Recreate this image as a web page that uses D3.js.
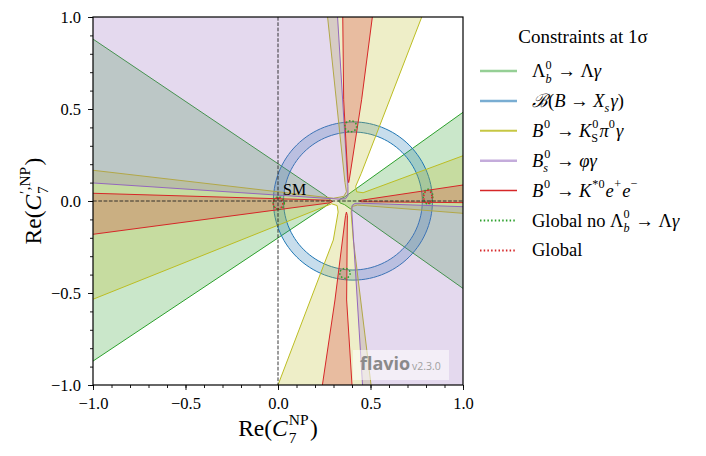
<!DOCTYPE html>
<html><head><meta charset="utf-8">
<script src="https://cdn.jsdelivr.net/npm/d3@7"></script>
<style>body{margin:0;background:#fff}svg{display:block}text{font-family:"Liberation Serif",serif;fill:#000}</style>
</head><body><svg id="c" width="706" height="456"></svg>
<script>
// ---------------- data ----------------
const majorTicks = [-1, -0.5, 0, 0.5, 1];
const tickLabels = ["\u22121.0", "\u22120.5", "0.0", "0.5", "1.0"];
const minorTicks = d3.range(-10, 11).map(d => d / 10);

// Lambda_b -> Lambda gamma (two wedges)
const lambdaBLeft  = [[-1,0.88],[0.255,0.03],[0.28,0.01],[0.29,0],[0.28,-0.01],[0.255,-0.03],[-1,-0.87]];
const lambdaBRight = [[1,0.482],[0.36,0.022],[0.335,0.01],[0.328,0],[0.335,-0.01],[0.36,-0.02],[1,-0.475]];
// B -> Xs gamma ring
const xsGammaCenter = [0.405, 0.0];
const xsGammaRadii  = [0.375, 0.43];
// B0 -> KS pi0 gamma (cross shaped region)
const kspiGamma = [[0.268,1],[0.362,0.1],[0.37,0.05],[0.355,0.025],[0.3,0.015],[-1,0.167],[-1,-0.534],
  [0.29,-0.015],[0.32,-0.025],[0.325,-0.06],[0.299,-0.212],[0,-1],[0.503,-1],[0.407,-0.21],[0.395,-0.06],
  [0.40,-0.03],[0.43,-0.022],[1,-0.067],[1,0.246],[0.46,0.045],[0.425,0.05],[0.42,0.08],[0.45,0.15],[0.777,1]];
// Bs -> phi gamma
const phiGammaUpper = [[-1,1],[0.322,1],[0.378,0.08],[0.378,0.03],[0.365,0.012],[0.33,0.01],[-1,0.098]];
const phiGammaLower = [[1,-1],[0.457,-1],[0.399,-0.06],[0.40,-0.025],[0.415,-0.013],[0.45,-0.012],[1,-0.031]];
// B0 -> K*0 e+ e-
const kstarLeft  = [[-1,0.042],[0.28,0.004],[0.295,-0.003],[0.28,-0.01],[-1,-0.181]];
const kstarRight = [[1,0.087],[0.45,0.004],[0.44,0],[0.45,-0.004],[1,-0.009]];
const kstarUp    = [[0.35,1],[0.355,0.55],[0.378,0.12],[0.382,0.1],[0.386,0.12],[0.452,0.55],[0.51,1]];
const kstarDown  = [[0.24,-1],[0.308,-0.538],[0.365,-0.08],[0.37,-0.06],[0.375,-0.08],[0.371,-0.538],[0.40,-1]];
// global fits: [cx, cy, rx, ry]
const globalNoLb = [[0.004,-0.012,0.03,0.034],[0.811,0.024,0.026,0.04],[0.393,0.406,0.032,0.03],[0.362,-0.393,0.028,0.027]];
const globalAll  = [[0.0,-0.012,0.026,0.03],[0.81,0.022,0.022,0.036]];
const smPoint = [0, 0];

// ---------------- layout / style ----------------
const L = 93, R = 463, T = 17, B = 385;
const x = d3.scaleLinear().domain([-1, 1]).range([L, R]);
const y = d3.scaleLinear().domain([-1, 1]).range([B, T]);
const C = {green:"#2ca02c", blue:"#1f77b4", olive:"#bcbd22", purple:"#9467bd", red:"#d62728"};

const svg = d3.select("#c");
svg.append("defs").append("clipPath").attr("id","clip")
  .append("rect").attr("x",L).attr("y",T).attr("width",R-L).attr("height",B-T);
const plot = svg.append("g").attr("clip-path","url(#clip)");

const line = d3.line().x(d => x(d[0])).y(d => y(d[1]));
const onEdge = (a, b) => (Math.abs(a[0])===1 && a[0]===b[0]) || (Math.abs(a[1])===1 && a[1]===b[1]);

function region(rings, color) {
  rings.forEach(ring => {
    plot.append("path").attr("d", line(ring) + "Z")
      .attr("fill", color).attr("fill-opacity", 0.25).attr("stroke", "none");
    const closed = ring.concat([ring[0]]);
    let seg = [closed[0]];
    const segs = [];
    for (let i = 1; i < closed.length; i++) {
      if (onEdge(closed[i-1], closed[i])) { if (seg.length > 1) segs.push(seg); seg = [closed[i]]; }
      else seg.push(closed[i]);
    }
    if (seg.length > 1) segs.push(seg);
    segs.forEach(s => plot.append("path").attr("d", line(s)).attr("fill","none")
      .attr("stroke", color).attr("stroke-width", 1));
  });
}

region([lambdaBLeft, lambdaBRight], C.green);

const ang = d3.range(0, 361, 3).map(a => a * Math.PI / 180);
const circ = r => ang.map(a => [xsGammaCenter[0] + r*Math.cos(a), xsGammaCenter[1] + r*Math.sin(a)]);
plot.append("path").attr("d", line(circ(xsGammaRadii[1])) + "Z" + line(circ(xsGammaRadii[0]).reverse()) + "Z")
  .attr("fill", C.blue).attr("fill-opacity", 0.25).attr("fill-rule","evenodd");
xsGammaRadii.forEach(r => plot.append("path").attr("d", line(circ(r)) + "Z")
  .attr("fill","none").attr("stroke", C.blue).attr("stroke-width", 1));

region([kspiGamma], C.olive);
region([phiGammaUpper, phiGammaLower], C.purple);
region([kstarLeft, kstarRight, kstarUp, kstarDown], C.red);

function ellipses(list, color) {
  list.forEach(e => plot.append("ellipse")
    .attr("cx", x(e[0])).attr("cy", y(e[1]))
    .attr("rx", x(e[0]+e[2]) - x(e[0])).attr("ry", y(e[1]) - y(e[1]+e[3]))
    .attr("fill","none").attr("stroke", color).attr("stroke-width", 1.5)
    .attr("stroke-dasharray","1.5,2"));
}
ellipses(globalNoLb, C.green);
ellipses(globalAll, C.red);

plot.append("line").attr("x1", x(smPoint[0])).attr("x2", x(smPoint[0])).attr("y1", T).attr("y2", B)
  .attr("stroke","#222").attr("stroke-width",0.9).attr("stroke-dasharray","3.7,1.6");
plot.append("line").attr("y1", y(smPoint[1])).attr("y2", y(smPoint[1])).attr("x1", L).attr("x2", R)
  .attr("stroke","#222").attr("stroke-width",0.9).attr("stroke-dasharray","3.7,1.6");
svg.append("text").attr("x", x(smPoint[0]) + 5).attr("y", y(smPoint[1]) - 6)
  .attr("font-size", 16).text("SM");

// watermark
const wm = svg.append("g");
wm.append("rect").attr("x", R-110).attr("y", B-35).attr("width", 96).attr("height", 30)
  .attr("fill","#fff").attr("fill-opacity",0.55);
wm.append("text").attr("x", R-103).attr("y", B-15).attr("font-size", 18).attr("font-weight","bold")
  .style("font-family","'Open Sans',sans-serif").style("fill","#8a8a8a").text("flavio");
wm.append("text").attr("x", R-51).attr("y", B-15).attr("font-size", 10.5)
  .style("font-family","'Open Sans',sans-serif").style("fill","#a0a0a0").text("v2.3.0");

// axes
const fmt = (d) => tickLabels[majorTicks.indexOf(d)];
const ax = svg.append("g").attr("transform", `translate(0,${B})`)
  .call(d3.axisBottom(x).tickValues(majorTicks).tickFormat(fmt).tickSize(5).tickPadding(7));
const axm = svg.append("g").attr("transform", `translate(0,${B})`)
  .call(d3.axisBottom(x).tickValues(minorTicks).tickFormat("").tickSize(3));
const ay = svg.append("g").attr("transform", `translate(${L},0)`)
  .call(d3.axisLeft(y).tickValues(majorTicks).tickFormat(fmt).tickSize(5).tickPadding(7));
const aym = svg.append("g").attr("transform", `translate(${L},0)`)
  .call(d3.axisLeft(y).tickValues(minorTicks).tickFormat("").tickSize(3));
[ax, axm, ay, aym].forEach(a => {
  a.select(".domain").remove();
  a.selectAll("line").attr("stroke","#000").attr("stroke-width",0.9);
  a.selectAll("text").attr("font-family","Liberation Serif").attr("font-size",16.5).attr("fill","#000");
});
svg.append("rect").attr("x",L).attr("y",T).attr("width",R-L).attr("height",B-T)
  .attr("fill","none").attr("stroke","#000").attr("stroke-width",1.2);

// math text helper: pieces are plain runs {t} or script runs {sub, sup}
function mathText(parent, pieces, size) {
  const g = parent.append("g");
  let cx = 0;
  pieces.forEach(p => {
    if (p.t !== undefined) {
      cx += (p.pre || 0) * size;
      const t = g.append("text").attr("x", cx).attr("y", 0).attr("font-size", size)
        .attr("font-style", p.it ? "italic" : "normal").text(p.t);
      cx += t.node().getComputedTextLength() + (p.k || 0) * size;
    } else {
      const ss = size * 0.66; let w = 0;
      if (p.sub !== undefined) {
        const t = g.append("text").attr("x", cx).attr("y", size*0.3).attr("font-size", ss)
          .attr("font-style", p.subIt ? "italic" : "normal").text(p.sub);
        w = Math.max(w, t.node().getComputedTextLength());
      }
      if (p.sup !== undefined) {
        const t = g.append("text").attr("x", cx + (p.supK || 0) * size).attr("y", -size*0.45).attr("font-size", ss).text(p.sup);
        w = Math.max(w, t.node().getComputedTextLength() + (p.supK || 0) * size);
      }
      cx += w + size*0.06;
    }
  });
  return {g, width: cx};
}

// axis titles
const xt = mathText(svg, [{t:"Re("},{t:"C",it:true,k:0.04},{sub:"7",sup:"NP"},{t:")"}], 23.5);
xt.g.attr("transform", `translate(${(L+R)/2 - xt.width/2},436)`);
const ytg = svg.append("g");
const yt = mathText(ytg, [{t:"Re("},{t:"C",it:true,k:0.04},{sub:"7",sup:"\u2032,NP"},{t:")"}], 23.5);
yt.g.attr("transform", `translate(41,${(T+B)/2}) rotate(-90) translate(${-yt.width/2},0)`);

// legend
const arrow = {t:"\u2192", pre:0.25, k:0.25};
const legendNames = [
  [{t:"\u039B"},{sub:"b",subIt:true,sup:"0"},arrow,{t:"\u039B"},{t:"\u03B3",it:true}],
  [{t:"\u212C",it:true},{t:"("},{t:"B",it:true},arrow,{t:"X",it:true},{sub:"s",subIt:true},{t:"\u03B3",it:true},{t:")"}],
  [{t:"B",it:true,k:0.04},{sup:"0"},arrow,{t:"K",it:true},{sub:"S",sup:"0",supK:0.05},{t:"\u03C0",it:true},{sup:"0"},{t:"\u03B3",it:true}],
  [{t:"B",it:true},{sub:"s",subIt:true,sup:"0",supK:0.05},arrow,{t:"\u03C6\u03B3",it:true}],
  [{t:"B",it:true,k:0.04},{sup:"0"},arrow,{t:"K",it:true,k:0.05},{sup:"*0"},{t:"e",it:true,k:0.02},{sup:"+"},{t:"e",it:true,k:0.02},{sup:"\u2212"}],
  [{t:"Global no \u039B"},{sub:"b",subIt:true,sup:"0"},arrow,{t:"\u039B"},{t:"\u03B3",it:true}],
  [{t:"Global"}]
];
const legendColors = [C.green, C.blue, C.olive, C.purple, C.red, C.green, C.red];
const legendStyle = [
  {w:2.5,o:0.5},{w:2.5,o:0.6},{w:2,o:0.85},{w:2.5,o:0.55},{w:1.5,o:1},{w:2,o:1,dash:"1.5,2.2"},{w:2,o:1,dash:"1.5,2.2"}
];
const lg = svg.append("g");
lg.append("text").attr("x", 583).attr("y", 43).attr("text-anchor","middle").attr("font-size",19)
  .text("Constraints at 1\u03C3");
legendNames.forEach((nm, i) => {
  const ry = 71 + i * 29.9;
  const st = legendStyle[i];
  lg.append("line").attr("x1",480).attr("x2",517).attr("y1",ry).attr("y2",ry)
    .attr("stroke", legendColors[i]).attr("stroke-width", st.w).attr("stroke-opacity", st.o)
    .attr("stroke-dasharray", st.dash || null);
  const m = mathText(lg, nm, 18.5);
  m.g.attr("transform", `translate(532,${ry+6})`);
});
</script></body></html>
